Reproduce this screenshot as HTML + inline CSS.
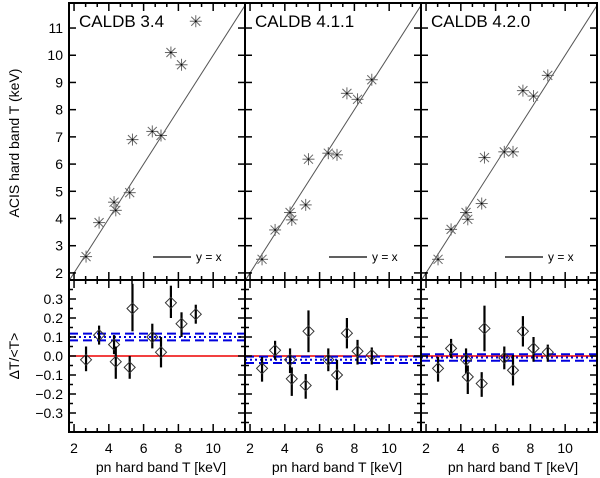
<!DOCTYPE html>
<html><head><meta charset="utf-8"><style>
html,body{margin:0;padding:0;background:#fff;}
svg{display:block;font-family:"Liberation Sans","DejaVu Sans",sans-serif;}
</style></head><body>
<svg id="chart" width="600" height="478" viewBox="0 0 600 478" xmlns="http://www.w3.org/2000/svg"></svg>
<script>
const panelTitles = ["CALDB 3.4","CALDB 4.1.1","CALDB 4.2.0"];
const pnT = [2.69,3.44,4.3,4.4,5.2,5.36,6.5,7.0,7.57,8.18,9.0];
const acisT1 = [2.6,3.85,4.6,4.3,4.95,6.9,7.2,7.05,10.1,9.65,11.25];
const acisT2 = [2.5,3.58,4.22,3.95,4.5,6.18,6.4,6.34,8.6,8.38,9.1];
const acisT3 = [2.5,3.6,4.22,3.97,4.55,6.24,6.45,6.45,8.7,8.5,9.26];
const dev1 = [-0.02,0.11,0.06,-0.03,-0.06,0.25,0.10,0.02,0.28,0.17,0.22];
const dev2 = [-0.065,0.03,-0.02,-0.12,-0.155,0.13,-0.02,-0.10,0.12,0.025,0.005];
const dev3 = [-0.065,0.04,-0.02,-0.11,-0.145,0.145,-0.01,-0.075,0.13,0.04,0.02];
const errLo1 = [0.06,0.05,0.05,0.09,0.06,0.12,0.06,0.08,0.08,0.07,0.05];
const errHi1 = [0.07,0.05,0.05,0.08,0.06,0.13,0.07,0.08,0.09,0.06,0.05];
const errLo2 = [0.07,0.05,0.07,0.09,0.07,0.11,0.06,0.08,0.08,0.07,0.05];
const errHi2 = [0.06,0.05,0.06,0.06,0.06,0.11,0.06,0.08,0.08,0.06,0.04];
const errLo3 = [0.07,0.05,0.07,0.09,0.07,0.12,0.06,0.08,0.08,0.07,0.05];
const errHi3 = [0.06,0.05,0.06,0.06,0.06,0.12,0.06,0.08,0.08,0.06,0.04];
const meanDev = [0.10,-0.02,-0.008];
const meanErr = [0.018,0.017,0.017];
const xTickLabels = [2,4,6,8,10];
const yTopTickLabels = [2,3,4,5,6,7,8,9,10,11];
const yBotTickLabels = [-0.3,-0.2,-0.1,0.0,0.1,0.2,0.3];

const acisAll=[acisT1,acisT2,acisT3], devAll=[dev1,dev2,dev3], loAll=[errLo1,errLo2,errLo3], hiAll=[errHi1,errHi2,errHi3];
const svg=document.getElementById('chart');
const NS="http://www.w3.org/2000/svg";
function el(tag,attrs,parent,text){const e=document.createElementNS(NS,tag);for(const k in attrs)e.setAttribute(k,attrs[k]);if(text!==undefined)e.textContent=text;(parent||svg).appendChild(e);return e;}
const X0=69,PW=176,TOP=3,MID=280,BOT=432;
const xmin=1.71,xmax=11.83,ymin=1.74,ymax=11.92,dmin=-0.4,dmax=0.4;
function sx(p,v){return X0+p*PW+(v-xmin)/(xmax-xmin)*PW;}
function syT(v){return MID-(v-ymin)/(ymax-ymin)*(MID-TOP);}
function syB(v){return BOT-(v-dmin)/(dmax-dmin)*(BOT-MID);}

for(let p=0;p<3;p++){
  const L=X0+p*PW,R=L+PW;
  const g=el('g',{});
  
  
  const cid='clipT'+p;
  const cp=el('clipPath',{id:cid},g);el('rect',{x:L,y:TOP,width:PW,height:MID-TOP},cp);
  const yx=el('line',{x1:sx(p,xmin),y1:syT(xmin),x2:sx(p,xmax),y2:syT(xmax),stroke:'#555','stroke-width':1,'clip-path':'url(#'+cid+')'},g);
  
  
  for(let i=0;i<pnT.length;i++){
    const cx=sx(p,pnT[i]),cy=syT(acisAll[p][i]),r=6;
    const s=el('g',{stroke:'#666','stroke-width':1},g);
    
    
    el('line',{x1:cx-r,y1:cy,x2:cx+r,y2:cy},s);
    el('line',{x1:cx,y1:cy-r,x2:cx,y2:cy+r},s);
    el('line',{x1:cx-r*0.75,y1:cy-r*0.75,x2:cx+r*0.75,y2:cy+r*0.75},s);
    el('line',{x1:cx-r*0.75,y1:cy+r*0.75,x2:cx+r*0.75,y2:cy-r*0.75},s);
    el('circle',{cx:cx,cy:cy,r:0.9,fill:'#000',stroke:'none'},s);
  }
  const t=el('text',{x:L+10,y:TOP+24,'font-size':17,fill:'#000'},g,panelTitles[p]);
  
  
  const lg=el('g',{},g);
  
  
  el('line',{x1:L+84,y1:257,x2:L+122,y2:257,stroke:'#000','stroke-width':1.3},lg);
  el('text',{x:L+127,y:261,'font-size':12},lg,'y = x');
  const red=el('line',{x1:L,y1:syB(0),x2:R,y2:syB(0),stroke:'#e00','stroke-width':1.5},g);
  
  
  const md=el('line',{x1:L,y1:syB(meanDev[p]),x2:R,y2:syB(meanDev[p]),stroke:'#00d','stroke-width':2,'stroke-dasharray':'2 3'},g);
  
  
  for(const sgn of [1,-1]){
    const dl=el('line',{x1:L,y1:syB(meanDev[p]+sgn*meanErr[p]),x2:R,y2:syB(meanDev[p]+sgn*meanErr[p]),stroke:'#00d','stroke-width':2,'stroke-dasharray':'9 5'},g);
    
    
  }
  for(let i=0;i<pnT.length;i++){
    const cx=sx(p,pnT[i]),d=devAll[p][i];
    const eb=el('line',{x1:cx,y1:syB(d-loAll[p][i]),x2:cx,y2:syB(d+hiAll[p][i]),stroke:'#000','stroke-width':2.2},g);
    
    
    const cy=syB(d),r=5.5;
    const dm=el('polygon',{points:`${cx},${cy-r} ${cx+r},${cy} ${cx},${cy+r} ${cx-r},${cy}`,fill:'none',stroke:'#333','stroke-width':1},g);
    
    
  }
  el('rect',{x:L,y:TOP,width:PW,height:MID-TOP,fill:'none',stroke:'#000','stroke-width':2},g);
  el('rect',{x:L,y:MID,width:PW,height:BOT-MID,fill:'none',stroke:'#000','stroke-width':2},g);
  for(let v=2;v<=11.8;v+=2/3){
    const x=sx(p,v),maj=Math.abs(Math.round(v/2)*2-v)<0.01;
    const tl=maj?8:4;
    for(const [a,b] of [[TOP,MID],[MID,BOT]]){
      el('line',{x1:x,y1:a,x2:x,y2:a+tl,stroke:'#000','stroke-width':1.5},g);
      el('line',{x1:x,y1:b,x2:x,y2:b-tl,stroke:'#000','stroke-width':1.5},g);
    }
  }
  for(const v of xTickLabels){
    const tx=el('text',{x:sx(p,v),y:453,'font-size':14,'text-anchor':'middle'},g,String(v));
    
    
  }
  const xt=el('text',{x:L+PW/2+4,y:472,'font-size':14,'text-anchor':'middle'},g,'pn hard band T [keV]');
  
  
  for(let v=2;v<=11;v++){
    const y=syT(v);
    el('line',{x1:L,y1:y,x2:L+7,y2:y,stroke:'#000','stroke-width':1.5},g);
    el('line',{x1:R,y1:y,x2:R-7,y2:y,stroke:'#000','stroke-width':1.5},g);
  }
  for(let k=-7;k<=7;k++){
    const y=syB(k*0.05),tl=(k%2===0)?7:4;
    el('line',{x1:L,y1:y,x2:L+tl,y2:y,stroke:'#000','stroke-width':1.5},g);
    el('line',{x1:R,y1:y,x2:R-tl,y2:y,stroke:'#000','stroke-width':1.5},g);
  }
}
for(const v of yTopTickLabels){
  const t=el('text',{x:63,y:syT(v)+5,'font-size':14,'text-anchor':'end'},svg,String(v));
  
  
}
for(const v of yBotTickLabels){
  const t=el('text',{x:63,y:syB(v)+5,'font-size':14,'text-anchor':'end'},svg,(v<0?'\u2212':'')+Math.abs(v).toFixed(1));
  
  
}
const yt=el('text',{x:0,y:0,'font-size':14,'text-anchor':'middle',transform:'translate(19,143) rotate(-90)'},svg,'ACIS hard band T (keV)');


const yb=el('text',{x:0,y:0,'font-size':14,'text-anchor':'middle',transform:'translate(19,356) rotate(-90)'},svg,'\u0394T/<T>');


</script>
</body></html>
